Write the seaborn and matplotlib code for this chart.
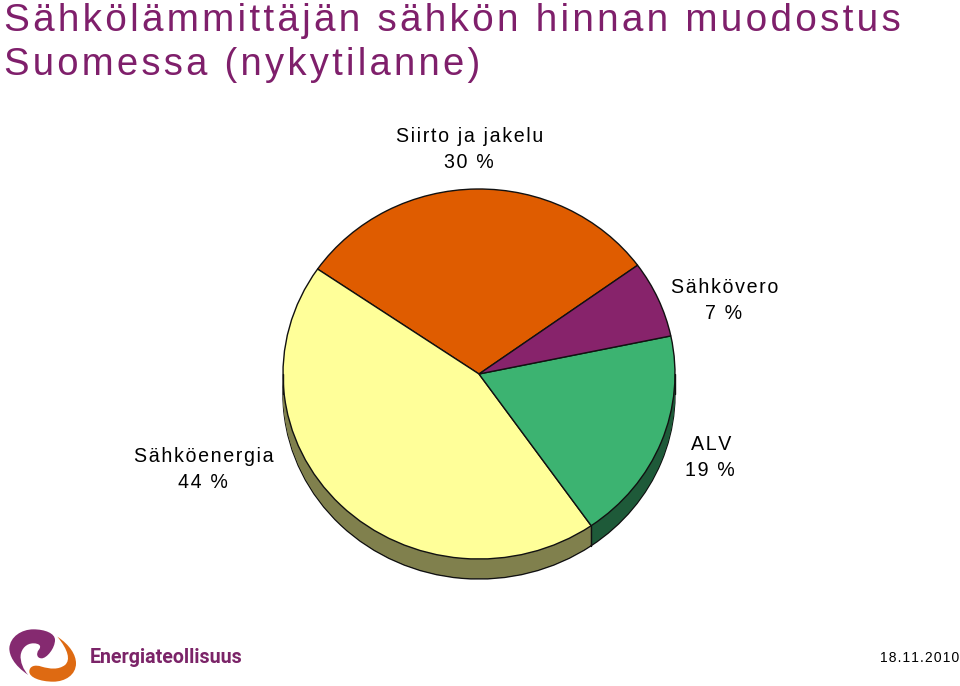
import numpy as np
import matplotlib.pyplot as plt
import seaborn as sns
from matplotlib.path import Path
from matplotlib.patches import PathPatch
from matplotlib.transforms import Affine2D

W, H = 960, 686
HAIR = '\u200a'

title_lines = ["Sähkölämmittäjän sähkön hinnan muodostus", "Suomessa (nykytilanne)"]
categories = ["Siirto ja jakelu", "Sähköenergia", "ALV", "Sähkövero"]
shares = [30.4, 44.3, 18.6, 6.7]
pie_colors = ["#DF5C00", "#FFFF99", "#3CB371", "#87236B"]
date_label = "18.11.2010"
logo_label = "Energiateollisuus"

sns.set_theme(style="white")
plt.rcParams['font.family'] = ['Liberation Sans', 'DejaVu Sans']


def spaced(s):
    # tekstin harvennus, matplotlibissa ei ole letter-spacingia
    return HAIR.join(s)


def px_text(fig, x, y, s, **kw):
    fig.text(x / W, 1 - y / H, s, **kw)


fig = plt.figure(figsize=(W / 100, H / 100), dpi=100)
ax = fig.add_axes([0, 0, 1, 1])

palette = sns.color_palette(pie_colors)
dark = [tuple(c * 0.5 for c in col) for col in palette]

# kylki: sama piirakka kerroksina alaspäin
cx, cy, rx, ry, depth = 479, 374, 196, 185, 20
start = 36
for i in range(depth, 0, -1):
    ax.pie(shares, colors=dark, startangle=start, counterclock=True, radius=1,
           center=(0, -i / ry), wedgeprops=dict(linewidth=1.0 if i == depth else 0,
                                                edgecolor='#111111' if i == depth else 'none'))
ax.pie(shares, colors=palette, startangle=start, counterclock=True, radius=1,
       wedgeprops=dict(linewidth=1.0, edgecolor='#111111'))

# keltaisen ja vihreän kyljen raja + vasen ja oikea reuna
bound = np.deg2rad(start + shares[0] * 3.6 + shares[1] * 3.6)
ax.plot([np.cos(bound)] * 2, [np.sin(bound), np.sin(bound) - depth / ry], color='#111111', lw=1)
ax.plot([-1, -1], [0, -depth / ry], color='#111111', lw=1)
ax.plot([1, 1], [0, -depth / ry], color='#111111', lw=1)

ax.set_aspect('auto')
ax.set_xlim(-cx / rx, (W - cx) / rx)
ax.set_ylim(-(H - cy) / ry, cy / ry)
ax.axis('off')

# otsikko
title_color = "#7F1F6B"
px_text(fig, 4, 31, spaced(title_lines[0]), fontsize=27.9, color=title_color, ha='left', va='baseline')
px_text(fig, 4, 75, spaced(title_lines[1]), fontsize=27.5, color=title_color, ha='left', va='baseline')

# selitteet
label_pos = [(470, 142), (204, 462), (711, 450), (725, 293)]
for name, share, (x, y) in zip(categories, shares, label_pos):
    px_text(fig, x, y, spaced(name), fontsize=14.1, color='black', ha='center', va='baseline')
    px_text(fig, x - 1, y + 26.5, spaced(f"{share:.0f} %"), fontsize=14.1, color='black', ha='center', va='baseline')

px_text(fig, 959, 662, spaced(date_label), fontsize=10, color='black', ha='right', va='baseline')

# logo
logo_tf = Affine2D().scale(1 / 3, -1 / 3).translate(0, H - 620)
purple = [(85, 165), (40, 135), (28, 105), (28, 85), (30, 50), (65, 28), (100, 28),
          (135, 28), (165, 40), (165, 60), (165, 85), (140, 115), (125, 115),
          (110, 115), (108, 100), (116, 90), (126, 78), (118, 70), (100, 70),
          (80, 70), (65, 85), (62, 105), (60, 125), (70, 150), (85, 165)]
orange = [(172, 50), (210, 75), (228, 105), (228, 130), (228, 165), (195, 185), (160, 185),
          (120, 185), (88, 172), (88, 155), (88, 138), (105, 133), (125, 140),
          (150, 147), (175, 150), (195, 135), (212, 120), (205, 90), (172, 50)]
for pts, col in [(purple, "#852A70"), (orange, "#DE6A12")]:
    codes = [Path.MOVETO] + [Path.CURVE4] * (len(pts) - 1)
    fig.add_artist(PathPatch(Path(pts, codes), facecolor=col, edgecolor='none', transform=logo_tf))

px_text(fig, 90, 663, logo_label, fontsize=14.1, fontweight='bold', family=['Roboto', 'DejaVu Sans'],
        color="#7B2468", ha='left', va='baseline')

fig.savefig("out.png", dpi=100)
